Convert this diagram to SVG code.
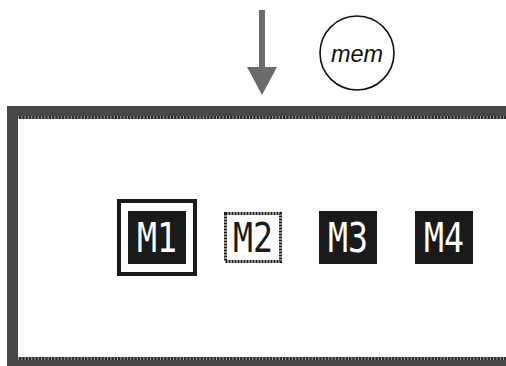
<svg xmlns="http://www.w3.org/2000/svg" width="506" height="366" viewBox="0 0 506 366">
<style>
.frame{fill:#474747}
.stripe{stroke:#2a2a2a;stroke-width:3}
.ticks{stroke:#a8a8a8;stroke-width:3;stroke-dasharray:1 2.3}
.box{fill:#1a1a1a}
.lbl{font-family:"DejaVu Sans Mono","Liberation Mono",monospace;font-size:40px;text-anchor:middle}
.w{fill:#ffffff}
.k{fill:#1a1a1a}
</style>
<rect width="506" height="366" fill="#ffffff"/>
<g id="frame">
<rect class="frame" x="7" y="106" width="499" height="10"/>
<rect class="frame" x="7" y="106" width="11" height="260"/>
<rect class="frame" x="7" y="360" width="499" height="6"/>
<line class="stripe" x1="18" y1="117.5" x2="506" y2="117.5"/>
<line class="ticks" x1="18" y1="117.5" x2="506" y2="117.5"/>
<line class="stripe" x1="18" y1="358.5" x2="506" y2="358.5"/>
<line class="ticks" x1="18" y1="358.5" x2="506" y2="358.5"/>
</g>
<g id="connectors">
<rect x="259" y="10" width="6" height="60" fill="#6b6b6b"/>
<polygon points="247,67 277,67 262,95" fill="#6b6b6b"/>
</g>
<g id="mem">
<circle cx="357" cy="53" r="37" fill="none" stroke="#111" stroke-width="1.6"/>
<text x="357" y="62" font-family="Liberation Sans, Arial, sans-serif" font-style="italic" font-size="23.5" text-anchor="middle" fill="#111">mem</text>
</g>
<g id="M1">
<rect x="119" y="201" width="76" height="73" fill="none" stroke="#1a1a1a" stroke-width="4"/>
<rect class="box" x="128" y="211" width="58" height="53"/>
<text class="lbl w" x="157" y="252" textLength="40" lengthAdjust="spacingAndGlyphs">M1</text>
</g>
<g id="M2">
<rect x="225.5" y="213.5" width="55" height="48" fill="none" stroke="#1a1a1a" stroke-width="3" stroke-dasharray="2 1"/>
<text class="lbl k" x="253" y="252" textLength="40" lengthAdjust="spacingAndGlyphs">M2</text>
</g>
<g id="M3">
<rect class="box" x="319" y="211" width="58" height="53"/>
<text class="lbl w" x="348" y="252" textLength="40" lengthAdjust="spacingAndGlyphs">M3</text>
</g>
<g id="M4">
<rect class="box" x="415" y="211" width="58" height="53"/>
<text class="lbl w" x="444" y="252" textLength="40" lengthAdjust="spacingAndGlyphs">M4</text>
</g>
</svg>
